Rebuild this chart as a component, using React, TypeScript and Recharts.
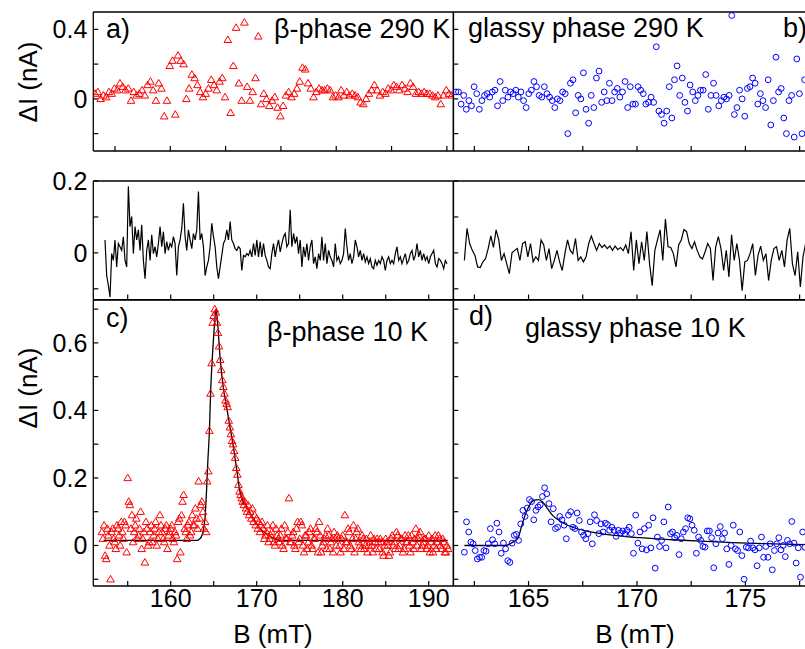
import React from 'react';
import { ComposedChart, XAxis, YAxis, Scatter, Line, ReferenceLine } from 'recharts';

const FONT = '"Liberation Sans", Arial, Helvetica, sans-serif';

// ---- a) beta-phase 290 K (triangles), field grid start/step in mT
const aStart = 153.2;
const aStep = 0.25;
const aValues = [
  0.03, 0.04, 0.0, 0.02, 0.01, 0.04, 0.03, 0.06, 0.05, 0.09,
  0.07, 0.05, 0.06, -0.01, 0.04, 0.02, 0.03, 0.05, 0.02, 0.08,
  0.1, 0.05, -0.01, 0.09, 0.06, -0.1, -0.01, 0.19, 0.22, -0.09,
  0.25, 0.22, 0.2, 0.0, 0.06, 0.14, 0.12, 0.08, 0.04, 0.01,
  0.03, 0.06, 0.11, 0.08, 0.05, 0.1, 0.12, 0.01, 0.34, -0.08,
  0.19, 0.41, 0.09, -0.01, 0.44, 0.07, -0.01, 0.04, 0.12, 0.36,
  -0.03, 0.03, 0.0, -0.04, -0.01, 0.01, -0.05, -0.1, -0.04, 0.02,
  0.04, 0.01, 0.03, 0.06, 0.1, 0.18, 0.17, 0.09, 0.06, 0.01,
  0.04, 0.06, 0.05, 0.05, 0.06, 0.05, 0.01, 0.02, 0.01, 0.05,
  0.02, 0.04, 0.02, 0.03, 0.02, 0.01, -0.02, -0.03, 0.0, 0.03,
  0.05, 0.08, 0.05, 0.02, 0.04, 0.03, 0.06, 0.05, 0.08, 0.07,
  0.05, 0.08, 0.06, 0.04, 0.09, 0.07, 0.03, 0.04, 0.03, 0.04,
  0.03, 0.03, 0.02, 0.01, 0.02, -0.03, 0.02, 0.05, 0.03, 0.02,
];

// ---- b) glassy phase 290 K (circles)
const bStart = 161.65;
const bStep = 0.12;
const bValues = [
  0.04, 0.04, -0.03, 0.02, -0.06, -0.01, -0.04, 0.07, 0.03, -0.06,
  -0.01, 0.02, 0.03, 0.01, 0.04, 0.05, -0.04, 0.1, -0.01, 0.05,
  0.01, 0.04, 0.03, 0.05, 0.01, 0.04, -0.01, -0.05, 0.03, 0.05,
  0.1, 0.07, 0.02, 0.01, 0.07, 0.03, 0.01, -0.01, -0.05, 0.0,
  -0.01, 0.04, 0.03, -0.2, 0.09, 0.11, -0.08, 0.02, 0.0, 0.15,
  -0.06, -0.14, 0.02, -0.05, 0.12, 0.16, -0.02, 0.04, -0.01, 0.09,
  -0.01, 0.04, 0.06, 0.01, 0.04, 0.1, -0.05, 0.07, -0.03, -0.03,
  0.07, 0.05, 0.03, -0.03, -0.02, 0.01, -0.02, 0.3, -0.07, -0.09,
  -0.14, -0.07, 0.07, -0.11, 0.11, 0.19, 0.02, 0.12, -0.02, -0.07,
  0.08, 0.04, -0.01, 0.02, 0.05, 0.05, 0.14, -0.06, 0.02, 0.09,
  0.02, -0.04, -0.01, 0.01, 0.0, 0.02, 0.48, -0.09, -0.05, 0.05,
  0.0, -0.1, 0.06, 0.07, 0.12, 0.09, -0.03, 0.03, -0.01, -0.05,
  0.11, -0.15, -0.01, 0.24, 0.04, 0.06, -0.11, -0.2, -0.01, 0.02,
  -0.22, 0.23, 0.03, -0.2, 0.11,
];

// ---- middle row, left trace
const traceLeftStart = 152.36;
const traceLeftStep = 0.194;
const traceLeftValues = [
  0.036, -0.063, -0.09, -0.123, -0.002, -0.021, 0.036, -0.039, 0.026, 0.017,
  0.007, 0.045, -0.021, -0.039, 0.185, 0.073, 0.101, -0.002, 0.073, 0.036,
  0.064, 0.007, 0.078, -0.021, -0.072, 0.007, 0.036, -0.021, 0.05, -0.002,
  0.017, -0.011, 0.026, 0.073, 0.017, 0.059, -0.002, 0.031, 0.007, 0.026,
  0.017, 0.045, 0.026, -0.063, 0.017, 0.036, 0.068, 0.138, 0.045, 0.007,
  0.064, 0.036, 0.012, 0.054, 0.036, 0.064, 0.171, 0.036, 0.054, 0.017,
  -0.063, -0.039, -0.021, 0.017, 0.082, 0.045, 0.017, -0.039, -0.072, -0.039,
  -0.007, 0.026, 0.036, 0.064, 0.036, 0.087, 0.036, 0.026, 0.012, 0.007,
  0.017, 0.012, -0.049, -0.007, -0.011, -0.002, -0.007, 0.007, -0.011, 0.026,
  -0.007, 0.036, -0.011, 0.031, -0.011, 0.026, -0.007, -0.021, -0.039, -0.044,
  -0.002, 0.026, -0.011, 0.017, 0.036, 0.003, 0.026, 0.045, 0.054, 0.017,
  0.026, 0.12, 0.017, 0.054, 0.026, 0.045, -0.002, 0.036, -0.039, 0.017,
  -0.011, 0.026, -0.021, 0.017, 0.036, -0.03, -0.011, -0.044, -0.002, -0.021,
  0.045, -0.021, 0.026, -0.03, 0.007, -0.011, -0.021, -0.039, 0.026, -0.021,
  -0.011, -0.03, -0.021, -0.002, 0.068, 0.017, -0.021, -0.002, -0.03, -0.011,
  0.036, 0.017, -0.011, 0.007, -0.021, -0.002, -0.025, -0.011, -0.03, -0.016,
  -0.039, -0.044, -0.021, -0.035, -0.021, -0.03, -0.011, -0.021, -0.049, -0.021,
  -0.011, -0.03, -0.021, -0.03, -0.002, 0.017, -0.021, -0.011, -0.03, -0.016,
  -0.002, -0.03, -0.021, -0.002, 0.007, -0.021, -0.007, 0.026, -0.011, 0.007,
  -0.021, -0.002, -0.021, -0.011, -0.03, -0.011, -0.002, 0.007, -0.03, -0.039,
  -0.016, -0.021, -0.03, -0.044, -0.021, -0.03,
];

// ---- middle row, right trace
const traceRightStart = 162.04;
const traceRightStep = 0.122;
const traceRightValues = [
  -0.021, 0.068, 0.026, 0.007, -0.007, -0.039, -0.041, -0.025, -0.016, 0.012,
  0.047, 0.015, 0.064, 0.036, -0.021, -0.002, -0.03, -0.058, 0.0, 0.007,
  0.012, -0.021, 0.026, 0.031, -0.011, 0.026, -0.025, -0.011, -0.021, 0.036,
  0.022, -0.021, 0.012, -0.044, -0.021, 0.007, -0.025, -0.049, -0.002, 0.036,
  0.007, -0.002, 0.04, -0.021, -0.011, -0.025, -0.011, 0.026, 0.047, 0.026,
  0.007, 0.026, 0.015, 0.022, 0.012, 0.019, 0.007, 0.019, 0.009, 0.015,
  0.006, 0.022, -0.002, 0.059, -0.049, 0.036, -0.03, 0.031, -0.021, 0.059,
  -0.03, -0.091, 0.007, 0.036, 0.064, -0.021, 0.094, 0.017, 0.015, -0.002,
  -0.039, 0.022, 0.036, 0.065, 0.059, 0.026, 0.012, 0.031, 0.007, -0.011,
  -0.017, 0.003, 0.026, 0.012, -0.077, 0.017, 0.045, 0.012, -0.049, 0.007,
  -0.067, 0.05, -0.021, 0.026, -0.021, -0.105, -0.025, -0.021, -0.002, 0.026,
  -0.063, -0.007, 0.019, -0.021, -0.002, -0.077, -0.021, 0.012, 0.017, -0.021,
  0.007, -0.039, 0.036, 0.068, -0.03, -0.063, 0.003, -0.095, -0.011, 0.026,
];

// ---- c) beta-phase 10 K, two interleaved sweeps
const cSweepAStart = 152.0;
const cSweepBStart = 152.125;
const cStep = 0.25;
const cSweepA = [
  0.04, 0.06, -0.04, 0.03, -0.1, 0.05, 0.01, 0.06, 0.03, 0.07,
  0.02, 0.06, 0.2, 0.12, 0.09, 0.04, 0.08, 0.03, 0.1, 0.02,
  -0.05, 0.05, 0.01, 0.06, 0.03, 0.07, 0.02, 0.09, 0.04, 0.01,
  0.06, 0.03, 0.05, 0.02, 0.04, -0.04, 0.08, 0.09, 0.15, 0.04,
  0.06, 0.03, 0.09, 0.06, 0.08, 0.19, 0.12, 0.1, 0.07, 0.19,
  0.34, 0.54, 0.68, 0.69, 0.63, 0.55, 0.49, 0.45, 0.42, 0.37,
  0.33, 0.3, 0.26, 0.21, 0.16, 0.14, 0.12, 0.11, 0.12, 0.1,
  0.11, 0.09, 0.08, 0.07, 0.06, 0.05, 0.03, 0.06, 0.02, 0.04,
  0.01, 0.05, 0.02, 0.03, 0.0, 0.06, 0.02, 0.14, 0.01, 0.04,
  -0.01, 0.07, 0.02, 0.06, -0.02, 0.03, 0.01, 0.05, -0.01, 0.02,
  0.04, 0.07, -0.02, 0.01, 0.03, 0.05, -0.01, 0.02, 0.04, 0.0,
  0.02, -0.02, 0.03, 0.09, 0.01, 0.04, -0.01, 0.06, 0.02, 0.05,
  0.0, 0.03, -0.01, 0.02, 0.0, 0.03, -0.02, 0.01, 0.02, -0.01,
  0.01, -0.03, 0.02, 0.0, -0.02, 0.03, 0.01, 0.04, -0.01, 0.02,
  -0.02, 0.03, 0.01, 0.0, 0.03, -0.01, 0.05, 0.02, 0.04, 0.0,
  0.02, -0.01, 0.03, 0.01, -0.02, 0.03, 0.01, 0.02, -0.01, 0.01,
  -0.02, -0.01,
];
const cSweepB = [
  0.02, -0.03, 0.05, 0.0, 0.04, 0.02, -0.01, 0.05, 0.0, 0.04,
  0.07, -0.02, 0.13, 0.05, 0.01, 0.06, 0.02, 0.05, -0.01, 0.04,
  0.07, 0.0, 0.04, 0.01, 0.05, 0.0, 0.04, 0.06, 0.02, 0.05,
  -0.01, 0.04, 0.06, 0.01, 0.03, 0.07, -0.02, 0.13, 0.05, 0.02,
  0.07, 0.04, 0.06, 0.11, 0.05, 0.08, 0.13, 0.05, 0.04, 0.22,
  0.45, 0.66, 0.7, 0.66, 0.59, 0.52, 0.47, 0.43, 0.41, 0.35,
  0.31, 0.28, 0.23, 0.18, 0.15, 0.13, 0.13, 0.1, 0.09, 0.08,
  0.07, 0.06, 0.05, 0.04, 0.07, 0.02, 0.04, 0.01, 0.03, 0.06,
  0.0, 0.03, 0.01, 0.05, -0.01, 0.02, 0.04, 0.01, 0.03, 0.0,
  0.05, 0.01, 0.07, 0.0, 0.03, -0.01, 0.04, 0.0, 0.02, 0.05,
  -0.02, 0.03, 0.0, 0.02, -0.01, 0.03, 0.01, -0.02, 0.02, 0.03,
  0.0, 0.02, -0.01, 0.01, 0.05, 0.0, 0.02, -0.02, 0.04, 0.01,
  -0.01, 0.02, 0.0, -0.02, 0.01, 0.0, 0.02, -0.01, 0.01, 0.02,
  -0.02, 0.0, 0.01, -0.03, 0.02, 0.0, -0.01, 0.03, 0.0, 0.02,
  -0.01, 0.01, 0.03, -0.02, 0.01, 0.02, 0.0, 0.03, -0.01, 0.01,
  0.02, 0.0, -0.02, 0.02, 0.0, -0.01, 0.03, 0.0, 0.02, -0.02,
  0.0,
];
const cFitField = [
  152.2, 163.0, 163.4, 163.8, 164.0, 164.18, 164.3, 164.5, 164.65, 164.85,
  165.05, 165.27, 165.45, 165.73, 166.1, 166.5, 166.9, 167.3, 167.7, 168.05,
  168.4, 168.8, 169.6, 170.4, 171.15, 171.9, 172.7, 192.2,
];
const cFitValues = [
  0.015, 0.015, 0.02, 0.045, 0.085, 0.17, 0.24, 0.34, 0.46, 0.56,
  0.64, 0.7, 0.66, 0.56, 0.47, 0.41, 0.35, 0.29, 0.22, 0.16,
  0.13, 0.115, 0.08, 0.05, 0.035, 0.022, 0.015, 0.015,
];

// ---- d) glassy phase 10 K
const dStart = 162.04;
const dStep = 0.1;
const dValues = [
  -0.02, 0.07, 0.04, 0.01, 0.005, -0.015, -0.04, -0.035, -0.035, -0.015,
  -0.017, 0.005, 0.05, 0.017, 0.005, 0.066, 0.04, -0.023, 0.007, -0.01,
  -0.045, -0.05, 0.007, 0.03, 0.033, 0.015, 0.064, 0.104, 0.086, 0.111,
  0.136, 0.13, 0.076, 0.104, 0.114, 0.12, 0.145, 0.171, 0.153, 0.124,
  0.07, 0.109, 0.05, 0.054, 0.086, 0.076, 0.06, 0.02, 0.09, 0.1,
  0.054, 0.05, 0.096, 0.074, 0.04, 0.03, 0.02, 0.035, 0.07, 0.005,
  0.091, 0.074, 0.035, 0.064, 0.04, 0.066, 0.062, 0.045, 0.054, 0.045,
  0.027, 0.045, 0.037, 0.043, 0.035, 0.045, 0.054, 0.035, -0.023, 0.09,
  0.007, 0.04, -0.01, 0.05, -0.013, 0.06, -0.007, 0.082, -0.067, 0.025,
  -0.003, 0.015, 0.07, -0.007, 0.114, 0.035, 0.04, 0.023, 0.03, -0.027,
  0.02, 0.04, 0.05, 0.082, 0.079, 0.06, 0.045, -0.023, 0.025, 0.015,
  -0.003, -0.005, 0.043, 0.043, 0.023, -0.066, 0.005, 0.037, 0.056, 0.02,
  0.037, -0.01, -0.056, 0.0, 0.06, -0.01, -0.015, 0.04, -0.03, -0.1,
  -0.005, -0.007, 0.013, -0.007, -0.013, -0.06, -0.007, 0.025, -0.035, -0.003,
  -0.035, 0.005, -0.072, -0.015, 0.005, 0.023, -0.013, 0.0, -0.033, 0.015,
  0.005, 0.071, 0.007, -0.052, -0.007, -0.094, 0.04, -0.005,
];
const dFitField = [
  162.04, 163.0, 163.96, 164.27, 164.5, 164.65, 164.81, 165.04, 165.27, 165.47,
  165.65, 165.88, 166.11, 166.42, 166.73, 167.03, 167.65, 168.57, 170.11, 171.65,
  173.18, 174.72, 176.26, 178.2,
];
const dFitValues = [
  0.0, 0.0, 0.0, 0.01, 0.02, 0.05, 0.084, 0.119, 0.134, 0.136,
  0.129, 0.109, 0.089, 0.074, 0.062, 0.054, 0.043, 0.033, 0.023, 0.017,
  0.012, 0.008, 0.005, 0.002,
];

// ---- axes
const topLeftXTicks = [155, 160, 165, 170, 175, 180, 185];
const leftXTicks = [155, 160, 165, 170, 175, 180, 185, 190];
const leftXLabels = [160, 170, 180, 190];
const rightXTicks = [162.5, 165, 167.5, 170, 172.5, 175, 177.5];
const rightXLabels = [165, 170, 175];
const rowAYTicks = [-0.2, 0, 0.2, 0.4];
const rowAYLabels = [0, 0.4];
const rowBYTicks = [-0.1, 0, 0.1, 0.2];
const rowBYLabels = [0, 0.2];
const rowCYTicks = [-0.1, 0, 0.1, 0.2, 0.3, 0.4, 0.5, 0.6, 0.7];
const rowCYLabels = [0, 0.2, 0.4, 0.6];

const seq = (start: number, step: number, values: number[]) =>
  values.map((v, i) => ({ b: +(start + i * step).toFixed(4), v }));
const pairs = (xs: number[], ys: number[]) => ys.map((v, i) => ({ b: xs[i], v }));

const aData = seq(aStart, aStep, aValues);
const bData = seq(bStart, bStep, bValues);
const traceLeft = seq(traceLeftStart, traceLeftStep, traceLeftValues);
const traceRight = seq(traceRightStart, traceRightStep, traceRightValues);
const cData = [...seq(cSweepAStart, cStep, cSweepA), ...seq(cSweepBStart, cStep, cSweepB)];
const cFit = pairs(cFitField, cFitValues);
const dData = seq(dStart, dStep, dValues);
const dFit = pairs(dFitField, dFitValues);

const labelOnly = (labels: number[]) => (v: number) =>
  labels.some((l) => Math.abs(l - v) < 1e-6) ? String(v) : '';

const Triangle = (props: any) => {
  const { cx, cy } = props;
  if (cx == null || cy == null) return null;
  return (
    <polygon
      points={`${cx},${cy - 3.8} ${cx + 3.8},${cy + 2.7} ${cx - 3.8},${cy + 2.7}`}
      fill="none"
      stroke="#ff0000"
      strokeWidth={1}
    />
  );
};

const Ring = (props: any) => {
  const { cx, cy } = props;
  if (cx == null || cy == null) return null;
  return <circle cx={cx} cy={cy} r={2.9} fill="none" stroke="#0000ff" strokeWidth={1} />;
};

const AXIS_W = 93.3;
const PAD_T = 20;
const PAD_R = 10;
const AXIS_H = 60;

type PanelProps = {
  left: number;
  top: number;
  width: number;
  height: number;
  xDomain: [number, number];
  yDomain: [number, number];
  xTicks: number[];
  yTicks: number[];
  xLabels: number[];
  yLabels: number[];
  children: React.ReactNode;
};

function Panel({ left, top, width, height, xDomain, yDomain, xTicks, yTicks, xLabels, yLabels, children }: PanelProps) {
  const axisLine = { stroke: '#000', strokeWidth: 1.3 };
  const tickLine = { stroke: '#000', strokeWidth: 1.2 };
  const tick = { fill: '#000', fontSize: 25, fontFamily: FONT };
  return (
    <div style={{ position: 'absolute', left: left - AXIS_W, top: top - PAD_T }}>
      <ComposedChart
        width={AXIS_W + width + PAD_R}
        height={PAD_T + height + AXIS_H}
        margin={{ top: PAD_T, right: PAD_R, left: 0, bottom: 0 }}
      >
        <XAxis
          type="number"
          dataKey="b"
          domain={xDomain}
          allowDataOverflow
          ticks={xTicks}
          interval={0}
          tickFormatter={labelOnly(xLabels)}
          tickSize={-5}
          tickMargin={8}
          height={AXIS_H}
          axisLine={axisLine}
          tickLine={tickLine}
          tick={tick}
        />
        <YAxis
          type="number"
          dataKey="v"
          domain={yDomain}
          allowDataOverflow
          ticks={yTicks}
          interval={0}
          tickFormatter={labelOnly(yLabels)}
          tickSize={-5}
          tickMargin={11}
          width={AXIS_W}
          axisLine={axisLine}
          tickLine={tickLine}
          tick={tick}
        />
        <ReferenceLine y={yDomain[1]} stroke="#000" strokeWidth={1.3} ifOverflow="visible" />
        <ReferenceLine x={xDomain[1]} stroke="#000" strokeWidth={1.3} ifOverflow="visible" />
        {children}
      </ComposedChart>
    </div>
  );
}

const LEFT_X = 93.3;
const RIGHT_X = 453.5;
const PLOT_W = 360.2;
const ROW_A = { top: 11.5, height: 139, domain: [-0.3, 0.5] as [number, number] };
const ROW_B = { top: 180.7, height: 118.6, domain: [-0.13, 0.2] as [number, number] };
const ROW_C = { top: 299.5, height: 286, domain: [-0.12, 0.727] as [number, number] };
const topLeftDomain: [number, number] = [153.04, 185.6];
const leftDomain: [number, number] = [151.0, 192.88];
const rightDomain: [number, number] = [161.53, 178.14];

export default function App() {
  const txt = { fontFamily: FONT, fill: '#000' };
  return (
    <div style={{ position: 'absolute', left: 0, top: 0, width: 805, height: 649, overflow: 'hidden', background: '#fff' }}>
      {/* a) */}
      <Panel left={LEFT_X} top={ROW_A.top} width={PLOT_W} height={ROW_A.height} xDomain={topLeftDomain} yDomain={ROW_A.domain}
        xTicks={topLeftXTicks} yTicks={rowAYTicks} xLabels={[]} yLabels={rowAYLabels}>
        <Scatter data={aData} dataKey="v" shape={Triangle} isAnimationActive={false} />
      </Panel>
      {/* b) */}
      <Panel left={RIGHT_X} top={ROW_A.top} width={PLOT_W} height={ROW_A.height} xDomain={rightDomain} yDomain={ROW_A.domain}
        xTicks={rightXTicks} yTicks={rowAYTicks} xLabels={[]} yLabels={[]}>
        <Scatter data={bData} dataKey="v" shape={Ring} isAnimationActive={false} />
      </Panel>
      {/* middle traces */}
      <Panel left={LEFT_X} top={ROW_B.top} width={PLOT_W} height={ROW_B.height} xDomain={leftDomain} yDomain={ROW_B.domain}
        xTicks={leftXTicks} yTicks={rowBYTicks} xLabels={[]} yLabels={rowBYLabels}>
        <Line data={traceLeft} dataKey="v" type="linear" stroke="#000" strokeWidth={1.2} dot={false} activeDot={false} isAnimationActive={false} />
      </Panel>
      <Panel left={RIGHT_X} top={ROW_B.top} width={PLOT_W} height={ROW_B.height} xDomain={rightDomain} yDomain={ROW_B.domain}
        xTicks={rightXTicks} yTicks={rowBYTicks} xLabels={[]} yLabels={[]}>
        <Line data={traceRight} dataKey="v" type="linear" stroke="#000" strokeWidth={1.2} dot={false} activeDot={false} isAnimationActive={false} />
      </Panel>
      {/* c) */}
      <Panel left={LEFT_X} top={ROW_C.top} width={PLOT_W} height={ROW_C.height} xDomain={leftDomain} yDomain={ROW_C.domain}
        xTicks={leftXTicks} yTicks={rowCYTicks} xLabels={leftXLabels} yLabels={rowCYLabels}>
        <Scatter data={cData} dataKey="v" shape={Triangle} isAnimationActive={false} />
        <Line data={cFit} dataKey="v" type="monotone" stroke="#000" strokeWidth={1.3} dot={false} activeDot={false} isAnimationActive={false} />
      </Panel>
      {/* d) */}
      <Panel left={RIGHT_X} top={ROW_C.top} width={PLOT_W} height={ROW_C.height} xDomain={rightDomain} yDomain={ROW_C.domain}
        xTicks={rightXTicks} yTicks={rowCYTicks} xLabels={rightXLabels} yLabels={[]}>
        <Scatter data={dData} dataKey="v" shape={Ring} isAnimationActive={false} />
        <Line data={dFit} dataKey="v" type="monotone" stroke="#000" strokeWidth={1.3} dot={false} activeDot={false} isAnimationActive={false} />
      </Panel>

      <svg width={805} height={649} style={{ position: 'absolute', left: 0, top: 0, pointerEvents: 'none' }}>
        <text {...txt} fontSize={26} textAnchor="middle" dominantBaseline="central" transform="translate(28,82) rotate(-90)">ΔI (nA)</text>
        <text {...txt} fontSize={26} textAnchor="middle" dominantBaseline="central" transform="translate(28,388) rotate(-90)">ΔI (nA)</text>
        <text {...txt} fontSize={26} textAnchor="middle" x={273} y={643}>B (mT)</text>
        <text {...txt} fontSize={26} textAnchor="middle" x={635} y={643}>B (mT)</text>
        <text {...txt} fontSize={27} x={106} y={37.5}>a)</text>
        <text {...txt} fontSize={27} x={274} y={37.5}>β-phase 290 K</text>
        <text {...txt} fontSize={27} x={468} y={36.5}>glassy phase 290 K</text>
        <text {...txt} fontSize={27} x={783} y={36.5}>b)</text>
        <text {...txt} fontSize={27} x={106} y={327}>c)</text>
        <text {...txt} fontSize={27} x={267} y={341}>β-phase 10 K</text>
        <text {...txt} fontSize={27} x={469} y={325}>d)</text>
        <text {...txt} fontSize={27} x={525} y={337}>glassy phase 10 K</text>
      </svg>
    </div>
  );
}
